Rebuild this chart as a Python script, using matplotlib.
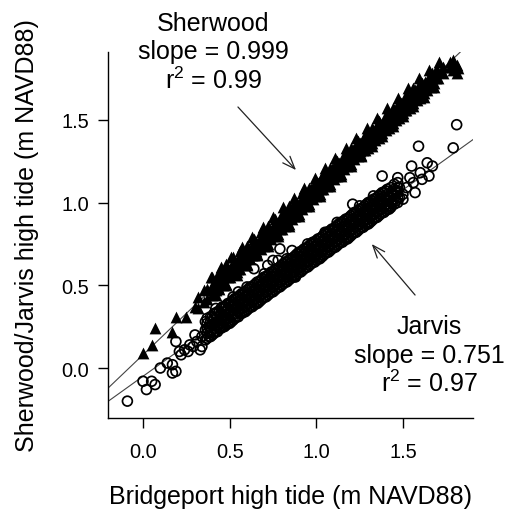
import matplotlib

matplotlib.use("Agg")
import matplotlib.pyplot as plt

plt.rcParams["font.family"] = ["Liberation Sans", "DejaVu Sans"]

# fitted regressions (slopes as reported on the figure)
SHERWOOD_SLOPE = 0.999
SHERWOOD_INTERCEPT = 0.08
JARVIS_SLOPE = 0.751
JARVIS_INTERCEPT = -0.05

x_ticks = [0.0, 0.5, 1.0, 1.5]
y_ticks = [0.0, 0.5, 1.0, 1.5]

# Sherwood high tides vs Bridgeport high tides (m NAVD88)
sherwood_x = [
    0.00, 0.05, 0.07, 0.17, 0.19, 0.25, 0.30,
    0.32, 0.32, 0.35, 0.35, 0.37, 0.37, 0.40, 0.40, 0.40, 0.42, 0.42,
    0.44, 0.44, 0.44, 0.46, 0.46, 0.48, 0.48, 0.48, 0.50, 0.50,
    0.52, 0.52, 0.52, 0.54, 0.54, 0.56, 0.56, 0.56, 0.58, 0.58,
    0.60, 0.60, 0.60, 0.62, 0.62, 0.64, 0.64, 0.64, 0.66, 0.66,
    0.68, 0.68, 0.68, 0.70, 0.70, 0.72, 0.72, 0.72, 0.74, 0.74,
    0.76, 0.76, 0.76, 0.78, 0.78, 0.80, 0.80, 0.80, 0.82, 0.82,
    0.84, 0.84, 0.84, 0.86, 0.86, 0.88, 0.88, 0.88, 0.90, 0.90,
    0.92, 0.92, 0.92, 0.94, 0.94, 0.96, 0.96, 0.96, 0.98, 0.98,
    1.00, 1.00, 1.00, 1.02, 1.02, 1.04, 1.04, 1.04, 1.06, 1.06,
    1.08, 1.08, 1.08, 1.10, 1.10, 1.12, 1.12, 1.12, 1.14, 1.14,
    1.16, 1.16, 1.16, 1.18, 1.18, 1.20, 1.20, 1.20, 1.22, 1.22,
    1.24, 1.24, 1.24, 1.26, 1.26, 1.28, 1.28, 1.28, 1.30, 1.30,
    1.32, 1.32, 1.32, 1.34, 1.34, 1.36, 1.36, 1.36, 1.38, 1.38,
    1.40, 1.40, 1.40, 1.42, 1.42, 1.44, 1.44, 1.44, 1.46, 1.46,
    1.48, 1.48, 1.48, 1.50, 1.50, 1.52, 1.52, 1.52, 1.54, 1.54,
    1.56, 1.56, 1.56, 1.58, 1.58, 1.60, 1.60, 1.60, 1.62, 1.62,
    1.64, 1.64, 1.66, 1.66, 1.68, 1.68, 1.70, 1.70, 1.73, 1.73,
    1.77, 1.77, 1.79, 1.79, 1.81, 1.81, 1.82,
]
sherwood_y = [
    0.09, 0.14, 0.24, 0.22, 0.31, 0.31, 0.37,
    0.36, 0.43, 0.40, 0.47, 0.42, 0.48, 0.44, 0.49, 0.55, 0.47, 0.51,
    0.48, 0.54, 0.58, 0.50, 0.55, 0.51, 0.57, 0.63, 0.55, 0.60,
    0.57, 0.61, 0.67, 0.58, 0.63, 0.60, 0.65, 0.71, 0.62, 0.67,
    0.63, 0.68, 0.74, 0.66, 0.71, 0.68, 0.72, 0.78, 0.69, 0.75,
    0.72, 0.77, 0.82, 0.74, 0.79, 0.75, 0.80, 0.86, 0.78, 0.83,
    0.80, 0.84, 0.90, 0.81, 0.87, 0.84, 0.88, 0.93, 0.86, 0.91,
    0.87, 0.92, 0.98, 0.90, 0.95, 0.92, 0.96, 1.01, 0.93, 0.99,
    0.96, 1.00, 1.06, 0.98, 1.03, 0.99, 1.04, 1.09, 1.02, 1.07,
    1.04, 1.08, 1.13, 1.05, 1.11, 1.08, 1.12, 1.17, 1.10, 1.15,
    1.11, 1.16, 1.21, 1.14, 1.19, 1.16, 1.20, 1.25, 1.17, 1.23,
    1.20, 1.24, 1.29, 1.22, 1.27, 1.23, 1.28, 1.33, 1.26, 1.31,
    1.28, 1.32, 1.37, 1.29, 1.35, 1.32, 1.36, 1.41, 1.33, 1.39,
    1.36, 1.40, 1.45, 1.38, 1.43, 1.39, 1.44, 1.49, 1.42, 1.47,
    1.44, 1.48, 1.53, 1.45, 1.51, 1.48, 1.52, 1.57, 1.50, 1.55,
    1.51, 1.56, 1.61, 1.54, 1.59, 1.56, 1.60, 1.65, 1.57, 1.63,
    1.60, 1.64, 1.69, 1.62, 1.67, 1.63, 1.68, 1.72, 1.66, 1.71,
    1.68, 1.73, 1.70, 1.75, 1.72, 1.77, 1.75, 1.79, 1.78, 1.82,
    1.82, 1.85, 1.80, 1.86, 1.83, 1.78, 1.81,
]
# the thick middle of the Sherwood cloud
sherwood_core_x = [
    0.41, 0.41, 0.43, 0.43, 0.45, 0.45, 0.47, 0.47, 0.49, 0.49,
    0.51, 0.51, 0.53, 0.53, 0.55, 0.55, 0.57, 0.57, 0.59, 0.59,
    0.61, 0.61, 0.63, 0.63, 0.65, 0.65, 0.67, 0.67, 0.69, 0.69,
    0.71, 0.71, 0.73, 0.73, 0.75, 0.75, 0.77, 0.77, 0.79, 0.79,
    0.81, 0.81, 0.83, 0.83, 0.85, 0.85, 0.87, 0.87, 0.89, 0.89,
    0.91, 0.91, 0.93, 0.93, 0.95, 0.95, 0.97, 0.97, 0.99, 0.99,
    1.01, 1.01, 1.03, 1.03, 1.05, 1.05, 1.07, 1.07, 1.09, 1.09,
    1.11, 1.11, 1.13, 1.13, 1.15, 1.15, 1.17, 1.17, 1.19, 1.19,
    1.21, 1.21, 1.23, 1.23, 1.25, 1.25, 1.27, 1.27, 1.29, 1.29,
    1.31, 1.31, 1.33, 1.33, 1.35, 1.35, 1.37, 1.37, 1.39, 1.39,
    1.41, 1.41, 1.43, 1.43, 1.45, 1.45, 1.47, 1.47, 1.49, 1.49,
    1.51, 1.51, 1.53, 1.53, 1.55, 1.55, 1.57, 1.57, 1.59, 1.59,
    1.61, 1.61, 1.63, 1.63, 1.65, 1.65, 1.67, 1.67, 1.69, 1.69,
]
sherwood_core_y = [
    0.47, 0.52, 0.49, 0.55, 0.51, 0.56, 0.52, 0.58, 0.55, 0.60,
    0.57, 0.61, 0.59, 0.64, 0.60, 0.66, 0.63, 0.68, 0.65, 0.69,
    0.67, 0.72, 0.68, 0.74, 0.71, 0.76, 0.73, 0.77, 0.75, 0.80,
    0.76, 0.82, 0.79, 0.84, 0.81, 0.85, 0.83, 0.88, 0.84, 0.90,
    0.87, 0.92, 0.89, 0.93, 0.91, 0.96, 0.92, 0.98, 0.95, 1.00,
    0.97, 1.01, 0.99, 1.04, 1.00, 1.06, 1.03, 1.08, 1.05, 1.09,
    1.07, 1.12, 1.08, 1.14, 1.11, 1.16, 1.13, 1.17, 1.15, 1.20,
    1.16, 1.22, 1.19, 1.24, 1.21, 1.25, 1.23, 1.28, 1.24, 1.30,
    1.27, 1.32, 1.29, 1.33, 1.31, 1.36, 1.32, 1.38, 1.35, 1.40,
    1.37, 1.41, 1.39, 1.44, 1.40, 1.46, 1.43, 1.48, 1.45, 1.49,
    1.47, 1.52, 1.48, 1.54, 1.51, 1.56, 1.53, 1.57, 1.55, 1.60,
    1.56, 1.62, 1.59, 1.64, 1.61, 1.65, 1.63, 1.68, 1.64, 1.70,
    1.67, 1.72, 1.69, 1.73, 1.71, 1.76, 1.72, 1.78, 1.75, 1.80,
]
# the ragged upper and lower edges of the Sherwood cloud
sherwood_edge_x = [
    0.39, 0.42, 0.45, 0.48, 0.51, 0.54, 0.57, 0.60, 0.63, 0.66,
    0.69, 0.72, 0.75, 0.78, 0.81, 0.84, 0.87, 0.90, 0.93, 0.96,
    0.99, 1.02, 1.05, 1.08, 1.11, 1.14, 1.17, 1.20, 1.23, 1.26,
    1.29, 1.32, 1.35, 1.38, 1.41, 1.44, 1.47, 1.50, 1.53, 1.56,
    1.59, 1.62, 1.65, 1.68, 1.71,
]
sherwood_edge_y = [
    0.55, 0.44, 0.61, 0.50, 0.67, 0.56, 0.73, 0.62, 0.79, 0.68,
    0.85, 0.74, 0.91, 0.80, 0.97, 0.86, 1.03, 0.92, 1.09, 0.98,
    1.15, 1.04, 1.21, 1.10, 1.27, 1.16, 1.33, 1.22, 1.39, 1.28,
    1.45, 1.34, 1.51, 1.40, 1.57, 1.46, 1.63, 1.52, 1.69, 1.58,
    1.75, 1.64, 1.80, 1.70, 1.85,
]

# Jarvis high tides vs Bridgeport high tides (m NAVD88)
jarvis_x = [
    -0.09, 0.00, 0.02, 0.05, 0.07, 0.10, 0.14, 0.17, 0.17, 0.19,
    0.19, 0.21, 0.22, 0.24, 0.26, 0.27, 0.29, 0.30, 0.31, 0.33,
    0.34, 0.34,
    0.36, 0.36, 0.36, 0.38, 0.38, 0.40, 0.40, 0.40, 0.42, 0.42, 0.42,
    0.44, 0.44, 0.44, 0.46, 0.46, 0.46, 0.48, 0.48, 0.48, 0.50, 0.50, 0.50,
    0.52, 0.52, 0.52, 0.54, 0.54, 0.54, 0.56, 0.56, 0.56, 0.58, 0.58, 0.58,
    0.60, 0.60, 0.60, 0.62, 0.62, 0.62, 0.64, 0.64, 0.64, 0.66, 0.66, 0.66,
    0.68, 0.68, 0.68, 0.70, 0.70, 0.70, 0.72, 0.72, 0.72, 0.74, 0.74, 0.74,
    0.76, 0.76, 0.76, 0.78, 0.78, 0.78, 0.80, 0.80, 0.80, 0.82, 0.82, 0.82,
    0.84, 0.84, 0.84, 0.86, 0.86, 0.86, 0.88, 0.88, 0.88, 0.90, 0.90, 0.90,
    0.92, 0.92, 0.92, 0.94, 0.94, 0.94, 0.96, 0.96, 0.96, 0.98, 0.98, 0.98,
    1.00, 1.00, 1.00, 1.02, 1.02, 1.02, 1.04, 1.04, 1.04, 1.06, 1.06, 1.06,
    1.08, 1.08, 1.08, 1.10, 1.10, 1.10, 1.12, 1.12, 1.12, 1.14, 1.14, 1.14,
    1.16, 1.16, 1.16, 1.18, 1.18, 1.18, 1.20, 1.20, 1.20, 1.22, 1.22, 1.22,
    1.24, 1.24, 1.24, 1.26, 1.26, 1.26, 1.28, 1.28, 1.28, 1.30, 1.30, 1.30,
    1.32, 1.32, 1.32, 1.34, 1.34, 1.34, 1.36, 1.36, 1.36, 1.38, 1.38, 1.38,
    1.40, 1.40, 1.40, 1.42, 1.42, 1.44, 1.44, 1.46, 1.46, 1.48, 1.48, 1.50,
    0.52, 0.64, 0.72, 0.75, 0.78, 0.79, 0.86, 1.21, 1.38, 1.47,
    1.50, 1.52, 1.54, 1.55, 1.56, 1.57, 1.59, 1.60, 1.61, 1.64,
    1.65, 1.67, 1.79, 1.81,
]
jarvis_y = [
    -0.20, -0.08, -0.13, -0.08, -0.10, 0.00, 0.03, 0.02, -0.03, -0.02,
    0.16, 0.10, 0.08, 0.11, 0.10, 0.14, 0.13, 0.20, 0.16, 0.11,
    0.13, 0.19,
    0.17, 0.23, 0.28, 0.19, 0.25, 0.20, 0.26, 0.31, 0.22, 0.27, 0.33,
    0.24, 0.29, 0.34, 0.25, 0.30, 0.37, 0.26, 0.32, 0.38, 0.28, 0.34, 0.39,
    0.29, 0.35, 0.41, 0.31, 0.36, 0.42, 0.33, 0.38, 0.44, 0.34, 0.40, 0.45,
    0.35, 0.41, 0.47, 0.37, 0.43, 0.49, 0.38, 0.44, 0.50, 0.40, 0.45, 0.52,
    0.41, 0.47, 0.53, 0.43, 0.49, 0.55, 0.44, 0.50, 0.56, 0.46, 0.51, 0.58,
    0.47, 0.53, 0.59, 0.49, 0.55, 0.60, 0.50, 0.56, 0.62, 0.52, 0.57, 0.64,
    0.53, 0.59, 0.65, 0.55, 0.61, 0.66, 0.56, 0.62, 0.68, 0.58, 0.63, 0.70,
    0.59, 0.65, 0.71, 0.61, 0.67, 0.72, 0.62, 0.68, 0.74, 0.64, 0.69, 0.76,
    0.65, 0.71, 0.77, 0.67, 0.73, 0.78, 0.68, 0.74, 0.80, 0.70, 0.75, 0.82,
    0.71, 0.77, 0.83, 0.73, 0.79, 0.84, 0.74, 0.80, 0.86, 0.76, 0.81, 0.88,
    0.77, 0.83, 0.89, 0.79, 0.85, 0.90, 0.80, 0.86, 0.92, 0.82, 0.87, 0.94,
    0.83, 0.89, 0.95, 0.85, 0.91, 0.96, 0.86, 0.92, 0.98, 0.88, 0.93, 1.00,
    0.89, 0.95, 1.01, 0.91, 0.97, 1.02, 0.92, 0.98, 1.04, 0.94, 0.99, 1.06,
    0.95, 1.01, 1.07, 0.98, 1.03, 1.00, 1.05, 1.01, 1.07, 1.03, 1.09, 1.05,
    0.43, 0.60, 0.62, 0.65, 0.65, 0.72, 0.71, 0.99, 1.16, 1.15,
    1.02, 1.09, 1.15, 1.22, 1.12, 1.06, 1.34, 1.18, 1.14, 1.24,
    1.16, 1.22, 1.33, 1.47,
]
# the thick middle of the Jarvis cloud
jarvis_core_x = [
    0.37, 0.37, 0.39, 0.39, 0.41, 0.41, 0.43, 0.43, 0.45, 0.45,
    0.47, 0.47, 0.49, 0.49, 0.51, 0.51, 0.53, 0.53, 0.55, 0.55,
    0.57, 0.57, 0.59, 0.59, 0.61, 0.61, 0.63, 0.63, 0.65, 0.65,
    0.67, 0.67, 0.69, 0.69, 0.71, 0.71, 0.73, 0.73, 0.75, 0.75,
    0.77, 0.77, 0.79, 0.79, 0.81, 0.81, 0.83, 0.83, 0.85, 0.85,
    0.87, 0.87, 0.89, 0.89, 0.91, 0.91, 0.93, 0.93, 0.95, 0.95,
    0.97, 0.97, 0.99, 0.99, 1.01, 1.01, 1.03, 1.03, 1.05, 1.05,
    1.07, 1.07, 1.09, 1.09, 1.11, 1.11, 1.13, 1.13, 1.15, 1.15,
    1.17, 1.17, 1.19, 1.19, 1.21, 1.21, 1.23, 1.23, 1.25, 1.25,
    1.27, 1.27, 1.29, 1.29, 1.31, 1.31, 1.33, 1.33, 1.35, 1.35,
    1.37, 1.37, 1.39, 1.39, 1.41, 1.41, 1.43, 1.43, 1.45, 1.45,
    1.47, 1.47,
]
jarvis_core_y = [
    0.21, 0.27, 0.22, 0.28, 0.24, 0.30, 0.25, 0.31, 0.27, 0.33,
    0.28, 0.34, 0.30, 0.36, 0.31, 0.37, 0.33, 0.39, 0.34, 0.40,
    0.36, 0.42, 0.37, 0.43, 0.39, 0.45, 0.40, 0.46, 0.42, 0.48,
    0.43, 0.49, 0.45, 0.51, 0.46, 0.52, 0.48, 0.54, 0.49, 0.55,
    0.51, 0.57, 0.52, 0.58, 0.54, 0.60, 0.55, 0.61, 0.57, 0.63,
    0.58, 0.64, 0.60, 0.66, 0.61, 0.67, 0.63, 0.69, 0.64, 0.70,
    0.66, 0.72, 0.67, 0.73, 0.69, 0.75, 0.70, 0.76, 0.72, 0.78,
    0.73, 0.79, 0.75, 0.81, 0.76, 0.82, 0.78, 0.84, 0.79, 0.85,
    0.81, 0.87, 0.82, 0.88, 0.84, 0.90, 0.85, 0.91, 0.87, 0.93,
    0.88, 0.94, 0.90, 0.96, 0.91, 0.97, 0.93, 0.99, 0.94, 1.00,
    0.96, 1.02, 0.97, 1.03, 0.99, 1.05, 1.00, 1.06, 1.02, 1.08,
    1.03, 1.09,
]
jarvis_fill_x = [
    0.37, 0.37, 0.37, 0.39, 0.39, 0.39, 0.41, 0.41, 0.41, 0.43, 0.43, 0.43,
    0.45, 0.45, 0.45, 0.47, 0.47, 0.47, 0.49, 0.49, 0.49, 0.51, 0.51, 0.51,
    0.53, 0.53, 0.53, 0.55, 0.55, 0.55, 0.57, 0.57, 0.57, 0.59, 0.59, 0.59,
    0.61, 0.61, 0.61, 0.63, 0.63, 0.63, 0.65, 0.65, 0.65, 0.67, 0.67, 0.67,
    0.69, 0.69, 0.69, 0.71, 0.71, 0.71, 0.73, 0.73, 0.73, 0.75, 0.75, 0.75,
    0.77, 0.77, 0.77, 0.79, 0.79, 0.79, 0.81, 0.81, 0.81, 0.83, 0.83, 0.83,
    0.85, 0.85, 0.85, 0.87, 0.87, 0.87, 0.89, 0.89, 0.89, 0.91, 0.91, 0.91,
    0.93, 0.93, 0.93, 0.95, 0.95, 0.95, 0.97, 0.97, 0.97, 0.99, 0.99, 0.99,
    1.01, 1.01, 1.01, 1.03, 1.03, 1.03, 1.05, 1.05, 1.05, 1.07, 1.07, 1.07,
    1.09, 1.09, 1.09, 1.11, 1.11, 1.11, 1.13, 1.13, 1.13, 1.15, 1.15, 1.15,
    1.17, 1.17, 1.17, 1.19, 1.19, 1.19, 1.21, 1.21, 1.21, 1.23, 1.23, 1.23,
    1.25, 1.25, 1.25, 1.27, 1.27, 1.27, 1.29, 1.29, 1.29, 1.31, 1.31, 1.31,
    1.33, 1.33, 1.33, 1.35, 1.35, 1.35, 1.37, 1.37, 1.37, 1.39, 1.39, 1.39,
    1.41, 1.41, 1.41, 1.43, 1.43, 1.43, 1.45, 1.45, 1.45, 1.47, 1.47, 1.47,
]
jarvis_fill_y = [
    0.18, 0.24, 0.30, 0.19, 0.25, 0.31, 0.21, 0.27, 0.33, 0.22, 0.28, 0.34,
    0.24, 0.30, 0.36, 0.25, 0.31, 0.37, 0.27, 0.33, 0.39, 0.28, 0.34, 0.40,
    0.30, 0.36, 0.42, 0.31, 0.37, 0.43, 0.33, 0.39, 0.45, 0.34, 0.40, 0.46,
    0.36, 0.42, 0.48, 0.37, 0.43, 0.49, 0.39, 0.45, 0.51, 0.40, 0.46, 0.52,
    0.42, 0.48, 0.54, 0.43, 0.49, 0.55, 0.45, 0.51, 0.57, 0.46, 0.52, 0.58,
    0.48, 0.54, 0.60, 0.49, 0.55, 0.61, 0.51, 0.57, 0.63, 0.52, 0.58, 0.64,
    0.54, 0.60, 0.66, 0.55, 0.61, 0.67, 0.57, 0.63, 0.69, 0.58, 0.64, 0.70,
    0.60, 0.66, 0.72, 0.61, 0.67, 0.73, 0.63, 0.69, 0.75, 0.64, 0.70, 0.76,
    0.66, 0.72, 0.78, 0.67, 0.73, 0.79, 0.69, 0.75, 0.81, 0.70, 0.76, 0.82,
    0.72, 0.78, 0.84, 0.73, 0.79, 0.85, 0.75, 0.81, 0.87, 0.76, 0.82, 0.88,
    0.78, 0.84, 0.90, 0.79, 0.85, 0.91, 0.81, 0.87, 0.93, 0.82, 0.88, 0.94,
    0.84, 0.90, 0.96, 0.85, 0.91, 0.97, 0.87, 0.93, 0.99, 0.88, 0.94, 1.00,
    0.90, 0.96, 1.02, 0.91, 0.97, 1.03, 0.93, 0.99, 1.05, 0.94, 1.00, 1.06,
    0.96, 1.02, 1.08, 0.97, 1.03, 1.09, 0.99, 1.05, 1.11, 1.00, 1.06, 1.12,
]
# loose circles along the upper and lower edges of the Jarvis cloud
jarvis_edge_x = [
    0.42, 0.55, 0.60, 0.70, 0.83, 0.95, 1.05, 1.12, 1.25, 1.33,
    0.50, 0.66, 0.88, 1.02, 1.18, 1.30, 1.42,
]
jarvis_edge_y = [
    0.36, 0.46, 0.49, 0.57, 0.66, 0.75, 0.82, 0.88, 0.98, 1.04,
    0.27, 0.39, 0.55, 0.66, 0.78, 0.87, 0.96,
]

fig = plt.figure(figsize=(5.06, 5.10), dpi=100)
ax = fig.add_axes([0.2134, 0.1784, 0.7213, 0.7176])

ax.axline((0, SHERWOOD_INTERCEPT), slope=SHERWOOD_SLOPE, color="#444444", lw=0.8, zorder=1)
ax.axline((0, JARVIS_INTERCEPT), slope=JARVIS_SLOPE, color="#444444", lw=0.8, zorder=1)

ax.scatter(jarvis_x + jarvis_core_x + jarvis_fill_x + jarvis_edge_x,
           jarvis_y + jarvis_core_y + jarvis_fill_y + jarvis_edge_y,
           s=50, marker="o", facecolors="none", edgecolors="black", linewidths=1.25, zorder=2)
ax.scatter(sherwood_x + sherwood_core_x + sherwood_edge_x,
           sherwood_y + sherwood_core_y + sherwood_edge_y,
           s=72, marker="^", color="black", linewidths=0, zorder=3)

ax.set_xlim(-0.202, 1.904)
ax.set_ylim(-0.302, 1.909)
ax.set_xticks(x_ticks)
ax.set_yticks(y_ticks)
ax.set_xticklabels([f"{t:.1f}" for t in x_ticks])
ax.set_yticklabels([f"{t:.1f}" for t in y_ticks])

for side in ("top", "right"):
    ax.spines[side].set_visible(False)
for side in ("left", "bottom"):
    ax.spines[side].set_linewidth(1.0)
ax.tick_params(direction="out", length=7, width=1.0, labelsize=14.4)
ax.tick_params(axis="x", pad=10)
ax.tick_params(axis="y", pad=6.5)

ax.set_xlabel("Bridgeport high tide (m NAVD88)", fontsize=18)
ax.xaxis.set_label_coords(0.5, -0.232)
ax.xaxis.label.set_verticalalignment("baseline")
ax.set_ylabel("Sherwood/Jarvis high tide (m NAVD88)", fontsize=18)
ax.yaxis.set_label_coords(-0.222, 0.5)
ax.yaxis.label.set_verticalalignment("center")

# site labels with their fit statistics
sherwood_lines = ["Sherwood", f"slope = {SHERWOOD_SLOPE}", r"$\mathregular{r^2}$ = 0.99"]
for text, y in zip(sherwood_lines, [0.939, 0.884, 0.825]):
    fig.text(0.421, y, text, ha="center", va="baseline", fontsize=18)

jarvis_lines = ["Jarvis", f"slope = {JARVIS_SLOPE}", r"$\mathregular{r^2}$ = 0.97"]
for text, y in zip(jarvis_lines, [0.345, 0.288, 0.231]):
    fig.text(0.848, y, text, ha="center", va="baseline", fontsize=18)

arrow = dict(arrowstyle="->,head_length=0.9,head_width=0.35", color="#222222", lw=0.9,
             shrinkA=0, shrinkB=0)
ax.annotate("", xy=(0.883, 1.196), xytext=(0.548, 1.577), arrowprops=arrow)
ax.annotate("", xy=(1.32, 0.749), xytext=(1.57, 0.441), arrowprops=arrow)

fig.savefig("out.png", dpi=100)
